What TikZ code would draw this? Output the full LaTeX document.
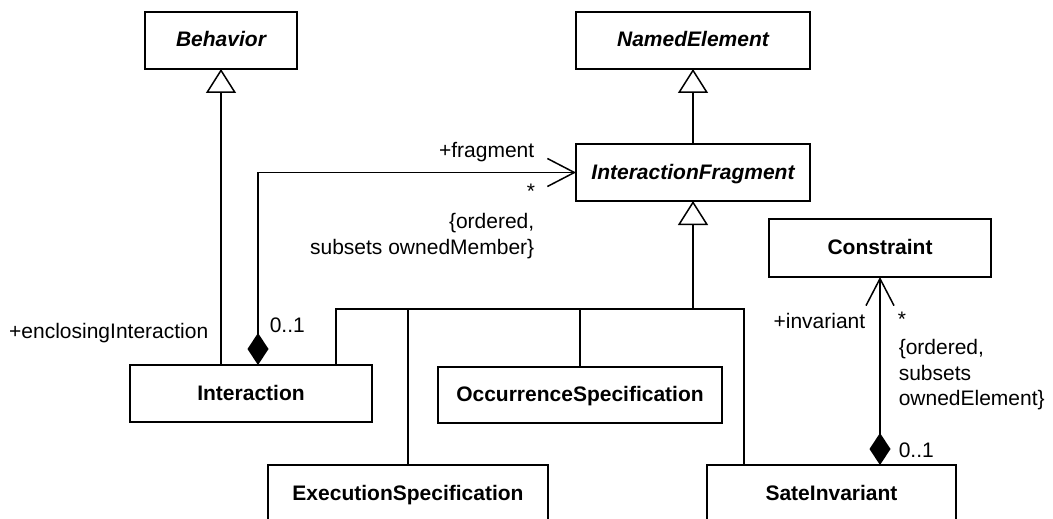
\documentclass[tikz,border=0pt]{standalone}
\usepackage{fontspec}
\setmainfont{Liberation Sans}
\usetikzlibrary{positioning,arrows.meta}

\begin{document}
\begin{tikzpicture}[
    x=1pt, y=-1pt,
    font={\fontsize{21}{25.5}\selectfont},
    line width=1.5pt,
    umlclass/.style={draw,rectangle,font={\fontsize{21}{25.5}\selectfont\bfseries},minimum height=57pt,text height=15pt,text depth=2pt,inner sep=0pt,outer sep=0pt},
    abstract/.style={umlclass,font={\fontsize{21}{25.5}\selectfont\bfseries\itshape}},
    role/.style={inner sep=0pt},
    generalize/.style={-{Triangle[open,length=24pt,width=30pt]}},
    compose/.style={{Diamond[length=32pt,width=21pt]}-{Straight Barb[length=27pt,width=28pt]}},
]
    \useasboundingbox (0,0) rectangle (1053,519);

    % Classes
    \node[abstract, minimum width=152pt] (behavior) at (221,40.5) {Behavior};
    \node[abstract, minimum width=234pt, right=279pt of behavior] (named) {NamedElement};
    \node[abstract, minimum width=234pt, below=75pt of named] (frag) {InteractionFragment};
    \node[umlclass, minimum width=222pt, minimum height=58pt] (constraint) at (880,248) {Constraint};

    \node[umlclass, minimum width=242pt] (interaction) at (251,393.5) {Interaction};
    \node[umlclass, minimum width=284pt, minimum height=56pt] (occurrence) at (580,395) {OccurrenceSpecification};
    \node[umlclass, minimum width=280pt, anchor=north] (execution) at (408,465) {ExecutionSpecification};
    \node[umlclass, minimum width=249pt, anchor=north] (sateinv) at (831.5,465) {SateInvariant};

    % Generalizations
    \coordinate (bus) at (693,309);
    \coordinate (busleft) at (336,309);
    \coordinate (busright) at (744,309);
    \draw[generalize] (interaction.north -| behavior.south) -- (behavior.south);
    \draw[generalize] (frag.north) -- (named.south);
    \draw[generalize] (bus) -- (frag.south);
    \draw (interaction.north -| busleft) |- (busright) -- (busright |- sateinv.north);
    \draw (execution.north) -- (execution.north |- bus);
    \draw (occurrence.north) -- (occurrence.north |- bus);

    % Compositions
    \draw[compose] ([xshift=7pt]interaction.north) |- (frag.west);
    \draw[compose] (constraint.south |- sateinv.north) -- (constraint.south);

    % Association ends
    \node[role, anchor=east] (fragname) at (535,152.5) {+fragment};
    \node[role] (fragmult) at (531,191) {*};
    \node[role, anchor=east, align=right] (fragprops) at (535,236) {\{ordered,\\subsets ownedMember\}};
    \node[role, anchor=east] (enclname) at (209,333) {+enclosingInteraction};
    \node[role, anchor=west] (enclmult) at (269,325) {0..1};

    \node[role, anchor=east] (invname) at (866,321) {+invariant};
    \node[role] (invmult) at (902,319) {*};
    \node[role, anchor=west, align=left] (invprops) at (898,375) {\{ordered,\\subsets\\ownedElement\}};
    \node[role, anchor=west] (ownermult) at (898,450.5) {0..1};

\end{tikzpicture}
\end{document}
